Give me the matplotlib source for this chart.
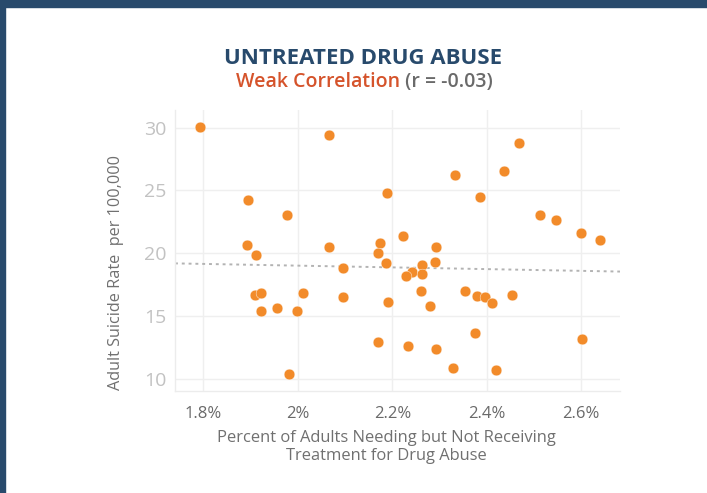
import numpy as np
import matplotlib
matplotlib.use("Agg")
import matplotlib.pyplot as plt
from matplotlib.patches import Rectangle

plt.rcParams['font.family'] = ['Open Sans', 'DejaVu Sans']

# ---------------------
# Data
# ---------------------
pct_untreated = [
    1.793, 2.067, 1.894, 1.977, 1.892, 1.912, 2.065, 2.096, 1.910, 1.923,
    1.923, 1.955, 1.998, 2.011, 1.981, 2.096, 2.468, 2.333, 2.436, 2.189,
    2.386, 2.513, 2.547, 2.600, 2.640, 2.223, 2.174, 2.170, 2.293, 2.187,
    2.291, 2.263, 2.241, 2.228, 2.263, 2.261, 2.353, 2.379, 2.396, 2.454,
    2.190, 2.410, 2.279, 2.376, 2.601, 2.170, 2.233, 2.293, 2.329, 2.420,
]
suicide_rate = [
    30.05, 29.43, 24.24, 23.02, 20.66, 19.84, 20.53, 18.86, 16.66, 16.87,
    15.39, 15.68, 15.44, 16.87, 10.44, 16.53, 28.77, 26.20, 26.52, 24.82,
    24.45, 23.02, 22.65, 21.64, 21.03, 21.35, 20.82, 20.05, 20.53, 19.26,
    19.31, 19.10, 18.54, 18.17, 18.38, 17.03, 17.03, 16.60, 16.50, 16.66,
    16.13, 16.05, 15.84, 13.64, 13.19, 12.98, 12.66, 12.42, 10.91, 10.75,
]
trend_x = [1.74, 2.682]
trend_y = [19.2, 18.55]

x_ticks = [1.8, 2.0, 2.2, 2.4, 2.6]
x_tick_labels = ['1.8%', '2%', '2.2%', '2.4%', '2.6%']
y_ticks = [10, 15, 20, 25, 30]

title = 'UNTREATED DRUG ABUSE'
subtitle_a = 'Weak Correlation'
subtitle_b = '(r = -0.03)'

# ---------------------
# Figure
# ---------------------
W, H = 707, 493
fig = plt.figure(figsize=(W / 100, H / 100), dpi=100)
ax = fig.add_axes([175 / W, 1 - 391 / H, (620 - 175) / W, (391 - 110) / H])

# Frame bars (left + top)
fig.patches.append(Rectangle((0, 0), 5 / W, 1, transform=fig.transFigure,
                             color='#284a6c', zorder=0))
fig.patches.append(Rectangle((0, 1 - 7 / H), 1, 7 / H, transform=fig.transFigure,
                             color='#284a6c', zorder=0))

ax.plot(trend_x, trend_y, color='#b3b3b3', lw=1.4, ls=(0, (1.5, 2)), zorder=2)
ax.scatter(pct_untreated, suicide_rate, s=60, color='#f28b2a',
           edgecolor='white', linewidth=0.3, zorder=3)

ax.set_xlim(1.74, 2.682)
ax.set_ylim(9.05, 31.4)
ax.set_xticks(x_ticks)
ax.set_xticklabels(x_tick_labels)
ax.set_yticks(y_ticks)

ax.grid(True, color='#efefef', lw=1)
ax.set_axisbelow(True)
for side in ['top', 'right']:
    ax.spines[side].set_visible(False)
for side in ['left', 'bottom']:
    ax.spines[side].set_color('#ececec')
    ax.spines[side].set_linewidth(1)

ax.tick_params(axis='both', length=0)
ax.tick_params(axis='y', labelsize=14, labelcolor='#c2c2c2', pad=6)
ax.tick_params(axis='x', labelsize=12, labelcolor='#6a6a6a', pad=11)

# Axis labels
fig.text(386 / W, 1 - 447 / H,
         'Percent of Adults Needing but Not Receiving\nTreatment for Drug Abuse',
         ha='center', va='center', fontsize=11.9, color='#707070', linespacing=1.15)
fig.text(116 / W, 1 - 272 / H, 'Adult Suicide Rate  per 100,000',
         ha='center', va='center', rotation=90, fontsize=11.7, color='#707070')

# Titles
fig.text(363 / W, 1 - 58 / H, title, ha='center', va='center',
         fontsize=16, fontweight='bold', color='#284a6c')

fig.canvas.draw()
r = fig.canvas.get_renderer()
ta = fig.text(0, 1 - 82 / H, subtitle_a, ha='left', va='center',
              fontsize=14, fontweight='semibold', color='#d5532b')
tb = fig.text(0, 1 - 82 / H, ' ' + subtitle_b, ha='left', va='center',
              fontsize=14, fontweight='semibold', color='#6a6a6a')
wa = ta.get_window_extent(r).width
wb = tb.get_window_extent(r).width
x0 = 364 - (wa + wb) / 2
ta.set_x(x0 / W)
tb.set_x((x0 + wa) / W)

fig.savefig('out.png', dpi=100)
